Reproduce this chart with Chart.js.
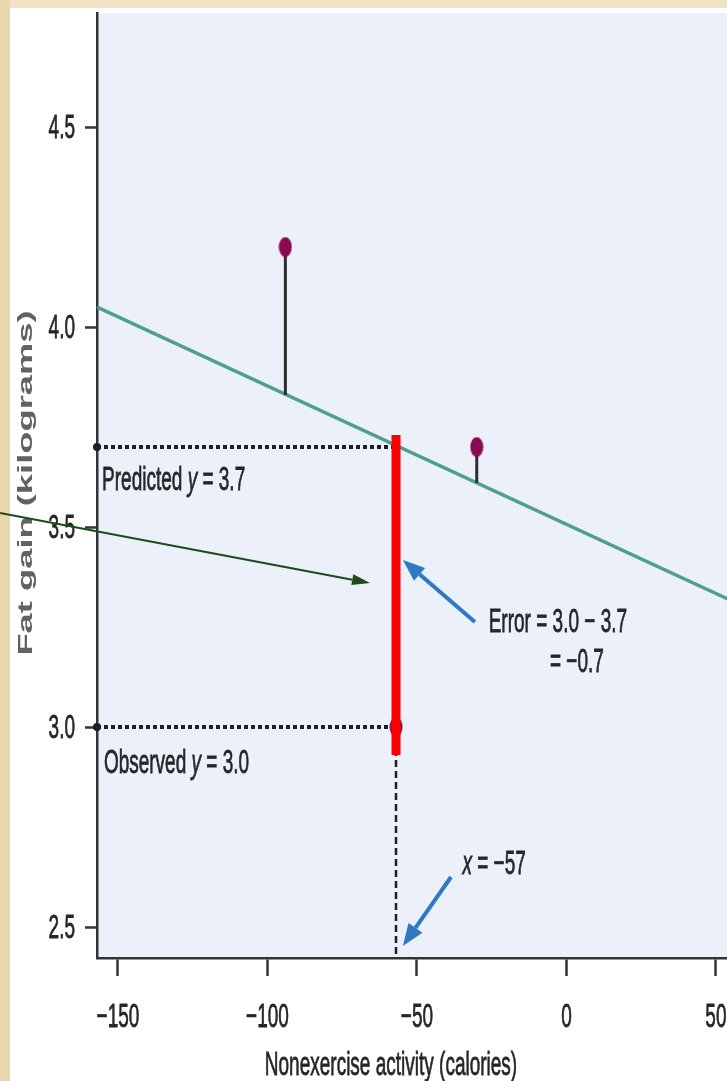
<!DOCTYPE html>
<html>
<head>
<meta charset="utf-8">
<script src="https://cdn.jsdelivr.net/npm/chart.js@4"></script>
<style>
  html, body { margin: 0; padding: 0; background: #f0e2c2; overflow: hidden; }
  canvas { display: block; }
</style>
</head>
<body>
<canvas id="residualChart" width="727" height="1081"></canvas>
<script>
// Data
const lineX = [-157, 54];          // least-squares line, ends at axis edges
const lineY = [4.05, 3.32];
const pointX = [-94, -30, -57];     // observed points
const pointY = [4.2, 3.7, 3.0];
const fittedY = [3.83, 3.61, 3.7];  // line value at each point
const errorBar = [3.73, 2.93];      // red highlight of the residual at x = -57
const xTicks = [-150, -100, -50, 0, 50];
const yTicks = [2.5, 3.0, 3.5, 4.0, 4.5];
const xRange = [-157, 53.7];
const yRange = [2.4225, 4.785];

// text is drawn condensed / tall like the scanned figure
const SX = 0.95, SY = 1.7;
const FONT = '"Liberation Sans", Arial, sans-serif';

function label(ctx, parts, x, y, align, color) {
    ctx.save();
    ctx.translate(x, y);
    ctx.scale(SX, SY);
    ctx.fillStyle = color || '#262626';
    ctx.strokeStyle = color || '#262626';
    ctx.lineWidth = 0.45;
    ctx.textAlign = 'left';
    ctx.textBaseline = 'alphabetic';
    let w = 0;
    parts.forEach(p => {
        ctx.font = (p[1] ? 'italic ' : '') + '20px ' + FONT;
        w += ctx.measureText(p[0]).width;
    });
    let cx = align === 'center' ? -w / 2 : (align === 'right' ? -w : 0);
    parts.forEach(p => {
        ctx.font = (p[1] ? 'italic ' : '') + '20px ' + FONT;
        ctx.fillText(p[0], cx, 0);
        ctx.strokeText(p[0], cx, 0);
        cx += ctx.measureText(p[0]).width;
    });
    ctx.restore();
}

function arrow(ctx, x1, y1, x2, y2, color, lw, headLen, headW) {
    const a = Math.atan2(y2 - y1, x2 - x1);
    const bx = x2 - Math.cos(a) * headLen, by = y2 - Math.sin(a) * headLen;
    ctx.save();
    ctx.strokeStyle = color;
    ctx.fillStyle = color;
    ctx.lineWidth = lw;
    ctx.beginPath();
    ctx.moveTo(x1, y1);
    ctx.lineTo(bx, by);
    ctx.stroke();
    ctx.beginPath();
    ctx.moveTo(x2, y2);
    ctx.lineTo(bx + Math.sin(a) * headW / 2, by - Math.cos(a) * headW / 2);
    ctx.lineTo(bx - Math.sin(a) * headW / 2, by + Math.cos(a) * headW / 2);
    ctx.closePath();
    ctx.fill();
    ctx.restore();
}

function minus(v) {
    return v < 0 ? '\u2212' + Math.abs(v) : String(v);
}

// ellipse marker (points look taller than wide in the figure)
const dot = document.createElement('canvas');
dot.width = 14;
dot.height = 21;
const g = dot.getContext('2d');
g.fillStyle = '#8c0b50';
g.beginPath();
g.ellipse(7, 10.5, 6.5, 10, 0, 0, Math.PI * 2);
g.fill();

const xy = (xs, ys) => xs.map((x, i) => ({ x: x, y: ys[i] }));

const backdrop = {
    id: 'backdrop',
    beforeDraw(chart) {
        const ctx = chart.ctx, a = chart.chartArea;
        ctx.save();
        ctx.fillStyle = '#f0e2c2';
        ctx.fillRect(0, 0, chart.width, chart.height);
        ctx.fillStyle = '#e9d6ab';
        ctx.fillRect(0, 0, 10, chart.height);
        ctx.fillStyle = '#ffffff';
        ctx.fillRect(10, 8, chart.width - 10, chart.height - 8);
        ctx.fillStyle = '#ebf0fa';
        ctx.fillRect(a.left, a.top, chart.width - a.left, a.bottom - a.top);
        ctx.restore();
    }
};

const annotations = {
    id: 'annotations',
    afterDraw(chart) {
        const ctx = chart.ctx;
        const xs = chart.scales.x, ys = chart.scales.y;
        const px = v => xs.getPixelForValue(v);
        const py = v => ys.getPixelForValue(v);

        // tick labels
        xs.ticks.forEach(t => label(ctx, [[minus(t.value)]], px(t.value), 1027, 'center'));
        ys.ticks.forEach(t => label(ctx, [[t.value.toFixed(1)]], 75, py(t.value) + 11, 'right'));

        // axis titles
        label(ctx, [['Nonexercise activity (calories)']], 391, 1075, 'center');
        ctx.save();
        ctx.translate(32, 483);
        ctx.rotate(-Math.PI / 2);
        ctx.scale(1.73, 1);
        ctx.font = 'bold 21px ' + FONT;
        ctx.fillStyle = '#626262';
        ctx.textAlign = 'center';
        ctx.fillText('Fat gain (kilograms)', 0, 0);
        ctx.restore();

        // notes
        label(ctx, [['Predicted '], ['y', true], [' = 3.7']], px(-155.3), py(3.5925));
        label(ctx, [['Observed '], ['y', true], [' = 3.0']], px(-154.7), py(2.885));
        label(ctx, [['Error = 3.0 \u2212 3.7']], px(-26), py(3.2375));
        label(ctx, [['= \u22120.7']], px(-5.5), py(3.1375));
        label(ctx, [['x', true], [' = \u221257']], px(-34.8), py(2.6325));

        arrow(ctx, px(-30.6), py(3.2625), px(-54.7), py(3.4175), '#2f78c4', 4, 22, 17);
        arrow(ctx, px(-38.6), py(2.625), px(-54.7), py(2.4525), '#2f78c4', 4, 22, 17);
        arrow(ctx, px(-189.4), py(3.535), px(-65.7), py(3.36), '#1d4a1d', 2, 18, 11);
    }
};

new Chart(document.getElementById('residualChart'), {
    type: 'scatter',
    data: {
        datasets: [{
            // red highlight of the residual
            data: [{ x: pointX[2], y: errorBar[0] }, { x: pointX[2], y: errorBar[1] }],
            showLine: true,
            borderColor: '#ff0000',
            borderWidth: 9,
            borderCapStyle: 'butt',
            pointRadius: 0
        }, {
            data: xy(pointX, pointY),
            pointStyle: dot,
            pointRadius: 7
        }, {
            data: [{ x: pointX[0], y: pointY[0] }, { x: pointX[0], y: fittedY[0] }],
            showLine: true,
            borderColor: '#2e2e2e',
            borderWidth: 3,
            pointRadius: 0
        }, {
            data: [{ x: pointX[1], y: pointY[1] }, { x: pointX[1], y: fittedY[1] }],
            showLine: true,
            borderColor: '#2e2e2e',
            borderWidth: 3,
            pointRadius: 0
        }, {
            // predicted y
            data: [{ x: xRange[0], y: fittedY[2] }, { x: pointX[2], y: fittedY[2] }],
            showLine: true,
            borderColor: '#1e1e28',
            borderWidth: 4,
            borderDash: [4, 3],
            pointRadius: [4, 0],
            pointBackgroundColor: '#1e1e28',
            pointBorderWidth: 0,
            clip: false
        }, {
            // observed y
            data: [{ x: xRange[0], y: pointY[2] }, { x: pointX[2], y: pointY[2] }],
            showLine: true,
            borderColor: '#1e1e28',
            borderWidth: 4,
            borderDash: [4, 3],
            pointRadius: [4, 0],
            pointBackgroundColor: '#1e1e28',
            pointBorderWidth: 0,
            clip: false
        }, {
            // x = -57 drop line
            data: [{ x: pointX[2], y: pointY[2] }, { x: pointX[2], y: yRange[0] }],
            showLine: true,
            borderColor: '#1e1e28',
            borderWidth: 2.5,
            borderDash: [7, 4],
            pointRadius: 0
        }, {
            data: xy(lineX, lineY),
            showLine: true,
            borderColor: '#4e9f8f',
            borderWidth: 3.5,
            pointRadius: 0
        }]
    },
    options: {
        responsive: false,
        devicePixelRatio: 1,
        animation: false,
        layout: { autoPadding: false, padding: { top: 13, left: 0, right: 0, bottom: 0 } },
        plugins: {
            legend: { display: false },
            tooltip: { enabled: false }
        },
        scales: {
            x: {
                type: 'linear',
                min: xRange[0],
                max: xRange[1],
                afterBuildTicks: s => { s.ticks = xTicks.map(v => ({ value: v })); },
                afterFit: s => { s.height = 123; },
                ticks: { display: false },
                grid: {
                    drawOnChartArea: false,
                    drawTicks: true,
                    tickLength: 18,
                    tickWidth: 2.5,
                    tickColor: '#333333'
                },
                border: { color: '#333333', width: 2.5 }
            },
            y: {
                type: 'linear',
                min: yRange[0],
                max: yRange[1],
                afterBuildTicks: s => { s.ticks = yTicks.map(v => ({ value: v })); },
                afterFit: s => { s.width = 97; },
                ticks: { display: false },
                grid: {
                    drawOnChartArea: false,
                    drawTicks: true,
                    tickLength: 12,
                    tickWidth: 2.5,
                    tickColor: '#333333'
                },
                border: { color: '#333333', width: 2.5 }
            }
        }
    },
    plugins: [backdrop, annotations]
});
</script>
</body>
</html>
